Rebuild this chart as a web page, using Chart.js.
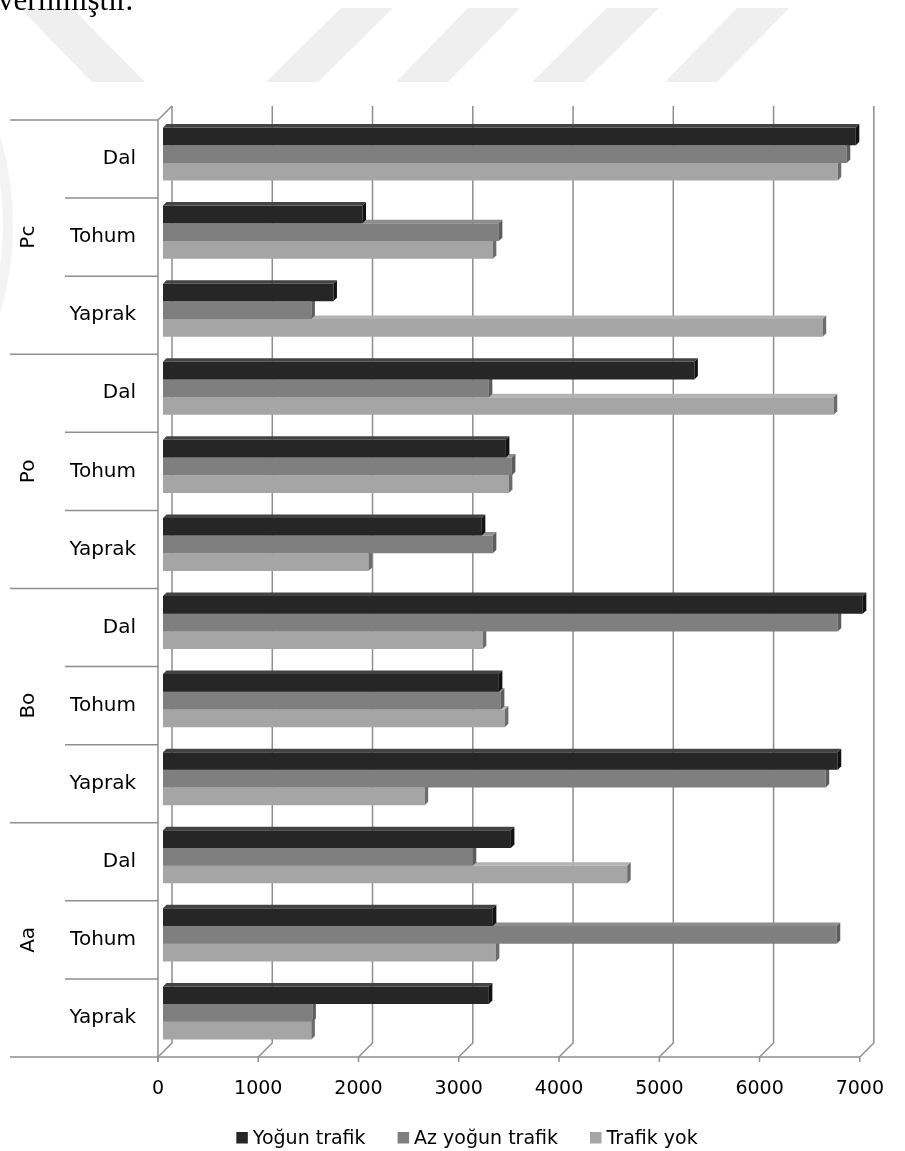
<!DOCTYPE html>
<html lang="tr">
<head>
<meta charset="utf-8">
<title>Trafik yoğunluğu</title>
<script src="https://cdn.jsdelivr.net/npm/chart.js@4.4.1/dist/chart.umd.min.js"></script>
<style>
  html, body { margin: 0; padding: 0; background: #fff; }
  #wrap { position: relative; width: 905px; height: 1151px; overflow: hidden; }
  #chart { position: absolute; left: 0; top: 0; }
  #lead {
    position: absolute; left: -2px; top: -16px; z-index: 2;
    font-family: "Liberation Serif", "Times New Roman", serif;
    font-size: 31px; line-height: 31px; color: #000; white-space: nowrap;
  }
</style>
</head>
<body>
<div id="wrap">
  <canvas id="chart" width="905" height="1151"></canvas>
  <div id="lead">verilmiştir.</div>
</div>
<script>
// ---- data ----
const groupNames = ['Pc', 'Po', 'Bo', 'Aa'];
const categories = ['Dal', 'Tohum', 'Yaprak', 'Dal', 'Tohum', 'Yaprak',
                    'Dal', 'Tohum', 'Yaprak', 'Dal', 'Tohum', 'Yaprak'];
const seriesNames = ['Yoğun trafik', 'Az yoğun trafik', 'Trafik yok'];
const yogunTrafik   = [6910, 1990, 1700, 5300, 3420, 3180, 6980, 3350, 6730, 3470, 3290, 3250];
const azYogunTrafik = [6820, 3350, 1480, 3250, 3480, 3290, 6730, 3370, 6610, 3090, 6720, 1490];
const trafikYok     = [6730, 3290, 6580, 6690, 3450, 2050, 3190, 3410, 2610, 4630, 3320, 1480];
const xTicks = [0, 1000, 2000, 3000, 4000, 5000, 6000, 7000];

// ---- look ----
const frontColors = ['#262626', '#7f7f7f', '#a5a5a5'];
const topColors   = ['#434343', '#8e8e8e', '#b3b3b3'];
const sideColors  = ['#121212', '#5c5c5c', '#6c6c6c'];
const GRID = '#8e8e8e';
const WALL_DEPTH = 14;     // oblique offset of the back wall
const BAR_SHIFT = 5;       // bars sit a little behind the front plane
const BAR_DEPTH = 3.5;     // visible thickness of each bar
const AREA = { left: 158, right: 880, top: 120, bottom: 1057 };
const LABEL_FONT = '20px "DejaVu Sans"';
const AXIS_FONT = { family: 'DejaVu Sans', size: 19 };

// background marks: pale diagonal strokes and a faint arc
const stripePolys = [
  [[20, 8], [72, 8], [145, 82], [92, 82]],
  [[341, 8], [393, 8], [318, 82], [266, 82]],
  [[468, 8], [520, 8], [448, 82], [396, 82]],
  [[607, 8], [659, 8], [584, 82], [532, 82]],
  [[737, 8], [789, 8], [717, 82], [665, 82]]
];

const backdrop = {
  id: 'backdrop',
  beforeDraw(chart) {
    const ctx = chart.ctx;
    ctx.save();
    ctx.fillStyle = '#fff';
    ctx.fillRect(0, 0, chart.width, chart.height);
    ctx.fillStyle = '#efefef';
    stripePolys.forEach(p => {
      ctx.beginPath();
      ctx.moveTo(p[0][0], p[0][1]);
      for (let i = 1; i < p.length; i++) ctx.lineTo(p[i][0], p[i][1]);
      ctx.closePath();
      ctx.fill();
    });
    ctx.strokeStyle = '#f3f3f3';
    ctx.lineWidth = 10;
    ctx.beginPath();
    ctx.arc(-300, 225, 308, -0.6, 0.6);
    ctx.stroke();
    ctx.restore();
  }
};

const walls = {
  id: 'walls',
  beforeDatasetsDraw(chart) {
    const { ctx, chartArea: a, scales: { x } } = chart;
    const D = WALL_DEPTH;
    ctx.save();
    ctx.strokeStyle = GRID;
    ctx.lineWidth = 1.5;
    // back-wall gridlines folding onto the floor, with ticks below
    xTicks.forEach(v => {
      const px = x.getPixelForValue(v);
      ctx.beginPath();
      ctx.moveTo(px + D, a.top - D);
      ctx.lineTo(px + D, a.bottom - D);
      ctx.lineTo(px, a.bottom);
      ctx.lineTo(px, a.bottom + 5);
      ctx.stroke();
    });
    // left wall edge
    ctx.beginPath();
    ctx.moveTo(a.left, a.bottom + 5);
    ctx.lineTo(a.left, a.top);
    ctx.lineTo(a.left + D, a.top - D);
    ctx.stroke();
    // category separators, floor front edge
    const band = (a.bottom - a.top) / categories.length;
    for (let i = 0; i <= categories.length; i++) {
      const y = a.top + i * band;
      ctx.beginPath();
      ctx.moveTo(i % 3 === 0 ? 10 : 65, y);
      ctx.lineTo(i === categories.length ? x.getPixelForValue(7000) : a.left, y);
      ctx.stroke();
    }
    // group names, rotated
    ctx.fillStyle = '#000';
    ctx.font = LABEL_FONT;
    ctx.textAlign = 'center';
    ctx.textBaseline = 'middle';
    groupNames.forEach((g, k) => {
      const yc = a.top + (k * 3 + 1.5) * band;
      ctx.save();
      ctx.translate(29, yc);
      ctx.rotate(-Math.PI / 2);
      ctx.fillText(g, 0, 0);
      ctx.restore();
    });
    ctx.restore();
  },
  beforeDatasetDraw(chart) {
    chart.ctx.save();
    chart.ctx.translate(BAR_SHIFT, -BAR_SHIFT);
  },
  afterDatasetDraw(chart, args) {
    const ctx = chart.ctx;
    const i = args.index;
    const d = BAR_DEPTH;
    args.meta.data.forEach(el => {
      const { x, y, base, height } = el.getProps(['x', 'y', 'base', 'height'], true);
      const t = y - height / 2, b = y + height / 2;
      ctx.fillStyle = topColors[i];
      ctx.beginPath();
      ctx.moveTo(base, t); ctx.lineTo(base + d, t - d);
      ctx.lineTo(x + d, t - d); ctx.lineTo(x, t);
      ctx.closePath(); ctx.fill();
      ctx.fillStyle = sideColors[i];
      ctx.beginPath();
      ctx.moveTo(x, t); ctx.lineTo(x + d, t - d);
      ctx.lineTo(x + d, b - d); ctx.lineTo(x, b);
      ctx.closePath(); ctx.fill();
    });
    ctx.restore();
  },
  afterDraw(chart) {
    // legend row
    const ctx = chart.ctx;
    ctx.save();
    ctx.font = '19px "DejaVu Sans"';
    ctx.textBaseline = 'alphabetic';
    ctx.textAlign = 'left';
    const box = 11.5, gap = 5, spacing = 32;
    const widths = seriesNames.map(s => ctx.measureText(s).width);
    const total = widths.reduce((s, w) => s + box + gap + w, 0) + spacing * (seriesNames.length - 1);
    let px = 467 - total / 2;
    seriesNames.forEach((s, k) => {
      ctx.fillStyle = frontColors[k];
      ctx.fillRect(px, 1132, box, box);
      ctx.fillStyle = '#000';
      ctx.fillText(s, px + box + gap, 1144);
      px += box + gap + widths[k] + spacing;
    });
    ctx.restore();
  }
};

const seriesValues = [yogunTrafik, azYogunTrafik, trafikYok];

const chart = new Chart(document.getElementById('chart'), {
  type: 'bar',
  data: {
    labels: categories,
    datasets: seriesNames.map((name, k) => ({
      label: name,
      data: seriesValues[k],
      backgroundColor: frontColors[k],
      borderWidth: 0,
      clip: false,
      categoryPercentage: 0.68,
      barPercentage: 1.0
    }))
  },
  options: {
    indexAxis: 'y',
    responsive: false,
    animation: false,
    devicePixelRatio: 1,
    layout: { padding: { left: 68, right: 3, top: AREA.top, bottom: 0 } },
    plugins: { legend: { display: false }, tooltip: { enabled: false } },
    scales: {
      x: {
        min: 0, max: 7000,
        clip: false,
        grid: { display: false, drawTicks: false },
        border: { display: false },
        afterBuildTicks(scale) { scale.ticks = xTicks.map(v => ({ value: v })); },
        afterFit(scale) { scale.height = 1151 - AREA.bottom; },
        ticks: {
          color: '#000', font: AXIS_FONT, padding: 21, maxRotation: 0,
          callback: v => String(v)
        }
      },
      y: {
        clip: false,
        grid: { display: false, drawTicks: false },
        border: { display: false },
        afterFit(scale) { scale.width = AREA.left - 68; },
        ticks: { color: '#000', font: { family: 'DejaVu Sans', size: 20 }, padding: 22 }
      }
    }
  },
  plugins: [backdrop, walls]
});

// settle the plot rectangle onto its intended position
(function settle() {
  const a = chart.chartArea;
  const pad = chart.options.layout.padding;
  pad.left += AREA.left - a.left;
  pad.right += a.right - AREA.right;
  pad.top += AREA.top - a.top;
  chart.update('none');
  const b = chart.chartArea;
  if (Math.abs(b.bottom - AREA.bottom) > 0.5) {
    const h = 1151 - AREA.bottom + (b.bottom - AREA.bottom);
    chart.options.scales.x.afterFit = scale => { scale.height = h; };
    chart.update('none');
  }
})();
</script>
</body>
</html>
